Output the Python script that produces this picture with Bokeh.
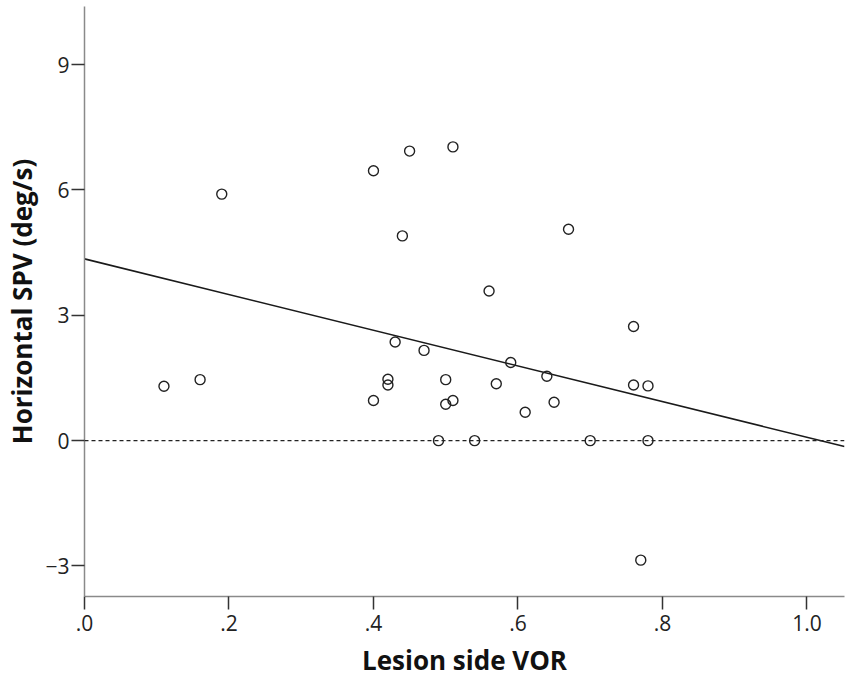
from bokeh.plotting import figure
from bokeh.models import Range1d, Span, FixedTicker, CustomJSTickFormatter
from bokeh.embed import file_html
from bokeh.resources import INLINE

# Data
vor = [0.11, 0.16, 0.19, 0.40, 0.45, 0.51, 0.44, 0.43, 0.47, 0.42,
       0.42, 0.40, 0.50, 0.50, 0.51, 0.49, 0.56, 0.59, 0.57, 0.61,
       0.64, 0.65, 0.67, 0.54, 0.70, 0.76, 0.76, 0.78, 0.78, 0.77]
spv = [1.30, 1.46, 5.90, 6.46, 6.93, 7.03, 4.90, 2.36, 2.16, 1.47,
       1.33, 0.96, 1.46, 0.87, 0.96, 0.00, 3.58, 1.87, 1.36, 0.68,
       1.54, 0.92, 5.06, 0.00, 0.00, 2.73, 1.33, 1.31, 0.00, -2.86]

# Fit line
fit_intercept = 4.35
fit_slope = -4.27

x_ticks = [0.0, 0.2, 0.4, 0.6, 0.8, 1.0]
y_ticks = [-3, 0, 3, 6, 9]
x_lo, x_hi = 0.0, 1.052
y_lo, y_hi = -3.73, 10.39

FONT = "Open Sans"

p = figure(width=850, height=680, output_backend="svg", toolbar_location=None,
           x_range=Range1d(x_lo, x_hi), y_range=Range1d(y_lo, y_hi),
           min_border_left=84, min_border_right=6, min_border_top=6,
           min_border_bottom=83)
p.outline_line_color = None
p.xgrid.visible = False
p.ygrid.visible = False
p.background_fill_color = "white"

# zero reference line
p.add_layout(Span(location=0, dimension="width", line_color="#222222",
                  line_width=1.3, line_dash="4 3"))

# fit line
fx = [x_lo, x_hi]
fy = [fit_intercept + fit_slope * v for v in fx]
p.line(fx, fy, line_color="#1a1a1a", line_width=1.6)

# points
p.scatter(vor, spv, marker="circle", size=10, fill_alpha=0,
          line_color="#222222", line_width=1.4)

for ax in (p.xaxis[0], p.yaxis[0]):
    ax.axis_line_color = "#8a8a8a"
    ax.axis_line_width = 1.5
    ax.major_tick_line_color = "#333333"
    ax.major_tick_line_width = 1.5
    ax.major_tick_out = 13
    ax.major_tick_in = 0
    ax.minor_tick_line_color = None
    ax.major_label_text_font = FONT
    ax.major_label_text_font_size = "21px"
    ax.major_label_text_color = "#222222"
    ax.axis_label_text_font = FONT
    ax.axis_label_text_font_size = "26px"
    ax.axis_label_text_font_style = "bold"
    ax.axis_label_text_color = "#111111"

p.xaxis.ticker = FixedTicker(ticks=x_ticks)
p.yaxis.ticker = FixedTicker(ticks=y_ticks)
p.xaxis.formatter = CustomJSTickFormatter(code="""
    var s = tick.toFixed(1);
    return s.charAt(0) === '0' ? s.substring(1) : s;
""")
p.yaxis.formatter = CustomJSTickFormatter(code="""
    return tick < 0 ? '\u2212' + Math.abs(tick) : String(tick);
""")
p.xaxis.axis_label = "Lesion side VOR"
p.yaxis.axis_label = "Horizontal SPV (deg/s)"
p.xaxis.major_label_standoff = 5
p.yaxis.major_label_standoff = 2
p.xaxis.axis_label_standoff = 8
p.yaxis.axis_label_standoff = 2

open("out.html", "w").write(file_html(p, INLINE))
